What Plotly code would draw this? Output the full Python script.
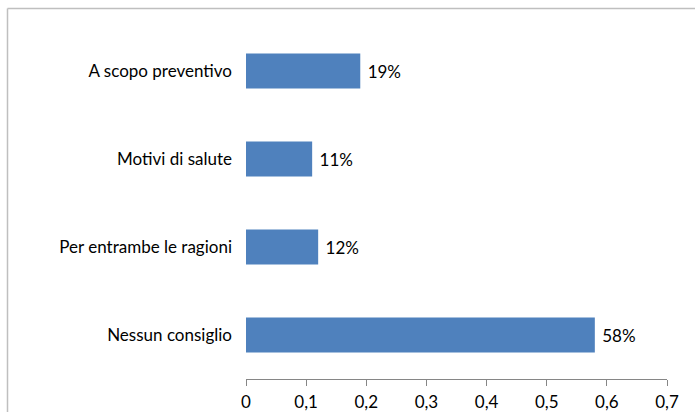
import plotly.graph_objects as go

categories = ["Nessun consiglio", "Per entrambe le ragioni", "Motivi di salute", "A scopo preventivo"]
values = [0.58, 0.12, 0.11, 0.19]
x_ticks = [0, 0.1, 0.2, 0.3, 0.4, 0.5, 0.6, 0.7]
x_ticklabels = ["0", "0,1", "0,2", "0,3", "0,4", "0,5", "0,6", "0,7"]

FONT = "Lato"
FS = 17
W, H = 695, 412
ml, mr, mt, mb = 246, 28, 27, 33
pw, ph = W - ml - mr, H - mt - mb

fig = go.Figure(go.Bar(
    y=categories, x=values, orientation="h",
    marker=dict(color="#4f81bd", line=dict(width=0)),
    texttemplate=" %{x:.0%}", textposition="outside",
    textfont=dict(family=FONT, size=FS, color="#000000"),
    cliponaxis=False,
))

# outer chart frame (cropped at right/bottom in the reference)
fx0 = (7.5 - ml) / pw
fy1 = (H - mb - 8.5) / ph
fig.add_shape(type="line", xref="paper", yref="paper",
              x0=fx0, x1=1.2, y0=fy1, y1=fy1,
              line=dict(color="#bfbfbf", width=1.5))
fig.add_shape(type="line", xref="paper", yref="paper",
              x0=fx0, x1=fx0, y0=-0.2, y1=fy1,
              line=dict(color="#bfbfbf", width=1.5))

fig.update_layout(
    width=W, height=H,
    margin=dict(l=ml, r=mr, t=mt, b=mb, pad=0, autoexpand=False),
    paper_bgcolor="white", plot_bgcolor="white",
    bargap=0.6, showlegend=False,
    font=dict(family=FONT, size=FS, color="#000000"),
)
fig.update_xaxes(
    range=[0, 0.7], tickvals=x_ticks, ticktext=x_ticklabels,
    showgrid=False, zeroline=False,
    showline=True, linecolor="#868686", linewidth=1,
    ticks="outside", ticklen=6, tickcolor="#868686",
    ticklabelstandoff=2,
    tickfont=dict(family=FONT, size=FS, color="#000000"),
    automargin=False,
)
fig.update_yaxes(
    showgrid=False, zeroline=False, showline=False, ticks="",
    ticklabelstandoff=13, automargin=False,
    tickfont=dict(family=FONT, size=FS, color="#000000"),
)

fig.write_html("out.html", config={"displayModeBar": False},
               post_script="document.body.style.margin='0';document.body.style.padding='0';")
